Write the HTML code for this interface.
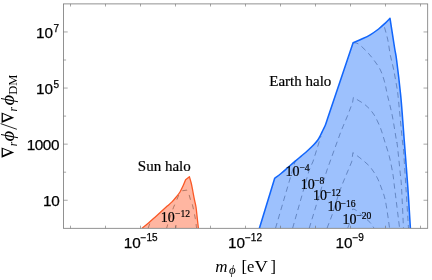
<!DOCTYPE html>
<html><head><meta charset="utf-8">
<style>
html,body{margin:0;padding:0;background:#fff;}
body{width:432px;height:280px;overflow:hidden;}
svg{display:block;will-change:transform;}
text{fill:#000;}
.sans{font-family:"Liberation Sans",sans-serif;}
.serif{font-family:"Liberation Serif",serif;}
</style></head><body>
<svg width="432" height="280" viewBox="0 0 432 280">
<rect width="432" height="280" fill="#fff"/>
<defs>
<clipPath id="plot"><rect x="63.5" y="3.9" width="364.2" height="224.4"/></clipPath>
</defs>
<g clip-path="url(#plot)">
<path d="M259.4,228.3 L274.7,178.3C275.75,177.50 278.70,175.38 281.00,173.50C283.30,171.62 286.17,169.02 288.50,167.00C290.83,164.98 292.88,163.22 295.00,161.40C297.12,159.58 299.17,157.88 301.25,156.10C303.33,154.32 305.46,152.55 307.50,150.70C309.54,148.85 311.78,146.78 313.50,145.00C315.22,143.22 316.62,141.67 317.80,140.00C318.98,138.33 319.73,136.67 320.60,135.00C321.47,133.33 322.20,131.67 323.00,130.00C323.80,128.33 324.65,126.88 325.40,125.00C326.15,123.12 327.15,119.79 327.50,118.75L347.3,60 L353.1,42.7C354.55,42.08 358.95,40.32 361.80,39.00C364.65,37.68 367.40,36.47 370.20,34.80C373.00,33.13 376.08,30.95 378.60,29.00C381.12,27.05 383.40,24.87 385.30,23.10C387.20,21.33 389.22,19.18 390.00,18.40C390.77,23.33 393.50,41.07 394.60,48.00C395.70,54.93 395.60,52.25 396.60,60.00C397.60,67.75 399.58,84.50 400.60,94.50C401.62,104.50 402.10,112.42 402.70,120.00C403.30,127.58 403.35,128.83 404.20,140.00C405.05,151.17 406.77,172.28 407.80,187.00C408.83,201.72 409.97,221.42 410.40,228.30Z" fill="#9dc1fd" stroke="none"/>
<g fill="none" stroke="#3f5f9a" stroke-width="0.7" stroke-dasharray="5.5,4" stroke-opacity="0.85">
<path d="M384.50,27.30C385.05,29.40 386.83,35.28 387.80,39.90C388.77,44.52 389.32,50.02 390.30,55.00C391.28,59.98 392.58,64.25 393.70,69.80C394.82,75.35 396.25,83.70 397.00,88.30C397.75,92.90 397.30,88.62 398.20,97.40C399.10,106.18 401.53,132.50 402.40,141.00C403.27,149.50 402.82,140.73 403.40,148.40C403.98,156.07 405.05,173.68 405.90,187.00C406.75,200.32 408.07,221.42 408.50,228.30"/><path d="M275.5,228.3 L295.5,160"/><path d="M353.10,42.70C354.00,42.92 356.22,42.52 358.50,44.00C360.78,45.48 364.28,48.98 366.80,51.60C369.32,54.22 371.35,56.67 373.60,59.70C375.85,62.73 378.48,66.15 380.30,69.80C382.12,73.45 383.32,77.40 384.50,81.60C385.68,85.80 386.10,89.30 387.40,95.00C388.70,100.70 390.78,108.13 392.30,115.80C393.82,123.47 395.67,136.13 396.50,141.00C397.33,145.87 396.67,139.57 397.30,145.00C397.93,150.43 399.60,166.60 400.30,173.60C401.00,180.60 400.97,177.88 401.50,187.00C402.03,196.12 403.17,221.42 403.50,228.30"/><path d="M292.6,228.3 L309.2,170 L313.1,161.25 L321,136"/><path d="M309.2,228.3 L327,170 L340.8,131.8 L347.5,115.8 L352.6,102.4 L353.4,97.4C355.37,98.65 361.83,102.12 365.20,104.90C368.57,107.68 371.08,110.32 373.60,114.10C376.12,117.88 378.47,123.12 380.30,127.60C382.13,132.08 383.08,136.13 384.60,141.00C386.12,145.87 388.03,151.37 389.40,156.80C390.77,162.23 391.95,168.57 392.80,173.60C393.65,178.63 393.37,177.88 394.50,187.00C395.63,196.12 398.75,221.42 399.60,228.30"/><path d="M327,228.3 L331.7,216 L338.4,195 L341.7,185.7 L351.7,161.8 L352.9,152.6C354.37,153.72 358.85,156.93 361.70,159.30C364.55,161.67 367.48,163.85 370.00,166.80C372.52,169.75 374.97,173.63 376.80,177.00C378.63,180.37 379.57,183.03 381.00,187.00C382.43,190.97 383.97,193.92 385.40,200.80C386.83,207.68 388.90,223.72 389.60,228.30"/><path d="M347.6,228.3 L351,220 L352.7,209C353.38,209.30 354.02,208.67 356.80,210.80C359.58,212.93 366.87,219.43 369.40,221.80C371.93,224.17 371.23,223.92 372.00,225.00C372.77,226.08 373.67,227.75 374.00,228.30"/>
</g>
<path d="M259.4,228.3 L274.7,178.3C275.75,177.50 278.70,175.38 281.00,173.50C283.30,171.62 286.17,169.02 288.50,167.00C290.83,164.98 292.88,163.22 295.00,161.40C297.12,159.58 299.17,157.88 301.25,156.10C303.33,154.32 305.46,152.55 307.50,150.70C309.54,148.85 311.78,146.78 313.50,145.00C315.22,143.22 316.62,141.67 317.80,140.00C318.98,138.33 319.73,136.67 320.60,135.00C321.47,133.33 322.20,131.67 323.00,130.00C323.80,128.33 324.65,126.88 325.40,125.00C326.15,123.12 327.15,119.79 327.50,118.75L347.3,60 L353.1,42.7C354.55,42.08 358.95,40.32 361.80,39.00C364.65,37.68 367.40,36.47 370.20,34.80C373.00,33.13 376.08,30.95 378.60,29.00C381.12,27.05 383.40,24.87 385.30,23.10C387.20,21.33 389.22,19.18 390.00,18.40C390.77,23.33 393.50,41.07 394.60,48.00C395.70,54.93 395.60,52.25 396.60,60.00C397.60,67.75 399.58,84.50 400.60,94.50C401.62,104.50 402.10,112.42 402.70,120.00C403.30,127.58 403.35,128.83 404.20,140.00C405.05,151.17 406.77,172.28 407.80,187.00C408.83,201.72 409.97,221.42 410.40,228.30" fill="none" stroke="#1266fb" stroke-width="1.55" stroke-linejoin="round"/>
<path d="M142.00,228.30C143.08,227.42 146.38,224.82 148.50,223.00C150.62,221.18 152.67,219.28 154.75,217.40C156.83,215.53 158.92,213.63 161.00,211.75C163.08,209.87 165.42,207.74 167.25,206.10C169.08,204.46 170.50,203.42 172.00,201.90C173.50,200.38 174.92,198.65 176.25,197.00C177.58,195.35 178.86,193.88 180.00,192.00C181.14,190.12 182.17,187.79 183.10,185.75C184.03,183.71 185.18,180.75 185.60,179.75L189.4,176.75C189.71,177.83 190.69,180.92 191.25,183.25C191.81,185.58 192.22,188.04 192.75,190.75C193.28,193.46 193.86,196.79 194.40,199.50C194.94,202.21 195.52,203.83 196.00,207.00C196.48,210.17 196.90,214.95 197.30,218.50C197.70,222.05 198.22,226.67 198.40,228.30Z" fill="#ffb6a1" stroke="none"/>
<g fill="none" stroke="#7a4a3a" stroke-width="0.7" stroke-dasharray="5,4" stroke-opacity="0.85">
<path d="M148.1,228.3 L149.8,223.5"/><path d="M182.3,190.75 L186.9,190.1C187.25,190.83 188.38,192.83 189.00,194.50C189.62,196.17 190.02,198.33 190.60,200.10C191.18,201.87 191.72,202.03 192.50,205.10C193.28,208.17 194.62,214.63 195.30,218.50C195.98,222.37 196.38,226.67 196.60,228.30" stroke-dasharray="5,5"/><path d="M182.3,190.75 L178.75,195.1 L176.9,199.5 L173.5,207.4 L168.5,221.75 L166.6,228.3" stroke-dasharray="5,5.5" stroke-dashoffset="5"/><path d="M175.75,228.3 L176,225"/>
</g>
<path d="M142.00,228.30C143.08,227.42 146.38,224.82 148.50,223.00C150.62,221.18 152.67,219.28 154.75,217.40C156.83,215.53 158.92,213.63 161.00,211.75C163.08,209.87 165.42,207.74 167.25,206.10C169.08,204.46 170.50,203.42 172.00,201.90C173.50,200.38 174.92,198.65 176.25,197.00C177.58,195.35 178.86,193.88 180.00,192.00C181.14,190.12 182.17,187.79 183.10,185.75C184.03,183.71 185.18,180.75 185.60,179.75L189.4,176.75C189.71,177.83 190.69,180.92 191.25,183.25C191.81,185.58 192.22,188.04 192.75,190.75C193.28,193.46 193.86,196.79 194.40,199.50C194.94,202.21 195.52,203.83 196.00,207.00C196.48,210.17 196.90,214.95 197.30,218.50C197.70,222.05 198.22,226.67 198.40,228.30" fill="none" stroke="#fa5826" stroke-width="1.3" stroke-linejoin="round"/>
</g>
<g stroke="#777" stroke-width="0.8" fill="none">
<rect x="63.5" y="3.9" width="364.2" height="224.4"/>
</g>
<g stroke="#6c6c6c" stroke-width="0.6" fill="none" id="ticks"><path d="M70.5,228.3v-2.6M70.5,3.9v2.6M105.5,228.3v-2.6M105.5,3.9v2.6M140.5,228.3v-2.6M140.5,3.9v2.6M175.5,228.3v-2.6M175.5,3.9v2.6M210.5,228.3v-2.6M210.5,3.9v2.6M245.5,228.3v-2.6M245.5,3.9v2.6M280.5,228.3v-2.6M280.5,3.9v2.6M315.5,228.3v-2.6M315.5,3.9v2.6M350.5,228.3v-2.6M350.5,3.9v2.6M385.5,228.3v-2.6M385.5,3.9v2.6M420.5,228.3v-2.6M420.5,3.9v2.6M63.5,200.25h4.2M427.7,200.25h-4.2M63.5,172.2h2.6M427.7,172.2h-2.6M63.5,144.15h4.2M427.7,144.15h-4.2M63.5,116.1h2.6M427.7,116.1h-2.6M63.5,88.05h4.2M427.7,88.05h-4.2M63.5,60h2.6M427.7,60h-2.6M63.5,31.95h4.2M427.7,31.95h-4.2"/></g>
<g class="sans" font-size="15.3" id="ylabels" stroke="#000" stroke-width="0.25">
<text x="52.9" y="38" text-anchor="end">10</text><text x="53.6" y="31.7" font-size="10">7</text>
<text x="52.9" y="94.3" text-anchor="end">10</text><text x="53.6" y="88" font-size="10">5</text>
<text x="59.1" y="149.7" text-anchor="end" letter-spacing="-0.4">1000</text>
<text x="59.3" y="205.8" text-anchor="end" letter-spacing="-0.4">10</text>
</g>
<g class="sans" font-size="15.3" id="xlabels" stroke="#000" stroke-width="0.25">
<text x="123.8" y="247.5">10</text><text x="140.6" y="240.8" font-size="10">−15</text>
<text x="228" y="247.5">10</text><text x="245" y="240.8" font-size="10">−12</text>
<text x="335.5" y="247.5">10</text><text x="352.5" y="240.8" font-size="10">−9</text>
</g>
<g class="serif" id="xlab">
<text x="215.3" y="271.7" font-size="17" font-style="italic">m</text>
<text transform="translate(228.9,274.3) scale(1.12,1)" font-size="11.5" font-style="italic">ϕ</text>
<text x="241.4 247 270.4" y="271.7" font-size="16.5">[e]</text><text transform="translate(254.5,271.7) scale(1.12,1)" font-size="16.5">V</text>
</g>
<g class="serif" transform="translate(13.3,157.8) rotate(-90)" id="ylab">
<path d="M0,-11.7 L10.4,-11.7 L5.25,0.9 Z M2.6,-10.4 L8.9,-10.4 L5.8,-2.9 Z" fill="#000" fill-rule="evenodd"/>
<text x="11.5" y="3.6" font-size="11.5" font-style="italic">r</text>
<text transform="translate(16.2,0.6) scale(1.15,1)" font-size="18" font-style="italic">ϕ</text>
<path d="M28.5,3.6 L34.2,-12.7" stroke="#000" stroke-width="0.85" fill="none"/>
<path transform="translate(34.8,0)" d="M0,-11.7 L10.4,-11.7 L5.25,0.9 Z M2.6,-10.4 L8.9,-10.4 L5.8,-2.9 Z" fill="#000" fill-rule="evenodd"/>
<text x="46.3" y="3.6" font-size="11.5" font-style="italic">r</text>
<text transform="translate(52.3,0.6) scale(1.15,1)" font-size="18" font-style="italic">ϕ</text>
<text x="63.1" y="3.6" font-size="12.5">DM</text>
</g>
<g class="serif" font-size="15" id="ann" stroke="#000" stroke-width="0.2">
<text x="137.8" y="170.9">Sun halo</text>
<text x="269.3" y="85.5">Earth halo</text>
</g>
<g class="serif" font-size="14" id="clab" stroke="#000" stroke-width="0.2">
<text x="160.8" y="221.5">10</text><text x="175.0" y="216.8" font-size="9.6">−12</text>
<text x="285.6" y="176">10</text><text x="299.4" y="171.4" font-size="9.6">−4</text>
<text x="300.8" y="188.7">10</text><text x="314.2" y="184" font-size="9.6">−8</text>
<text x="312.9" y="200.2">10</text><text x="325.8" y="195.5" font-size="9.6">−12</text>
<text x="327.4" y="211.3">10</text><text x="340.5" y="206.6" font-size="9.6">−16</text>
<text x="342.6" y="224">10</text><text x="356.3" y="219" font-size="9.6">−20</text>
</g>
</svg>
</body></html>
